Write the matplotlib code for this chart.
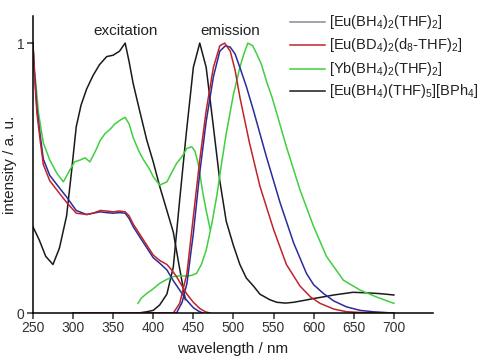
import numpy as np
import matplotlib.pyplot as plt

plt.rcParams['font.family'] = ['Liberation Sans', 'DejaVu Sans']
plt.rcParams['mathtext.fontset'] = 'custom'
plt.rcParams['mathtext.rm'] = 'Liberation Sans'
plt.rcParams['mathtext.it'] = 'Liberation Sans'

# [Eu(BH4)(THF)5][BPh4] excitation / emission (black)
blk_ex_x = [250, 258, 266, 275, 283, 292, 298, 304, 310, 317, 325, 333, 342, 350, 358, 365,
            370, 375, 383, 392, 400, 408, 416, 425, 432, 440]
blk_ex_y = [0.32, 0.27, 0.21, 0.18, 0.24, 0.36, 0.52, 0.69, 0.77, 0.83, 0.88, 0.92, 0.95, 0.955, 0.97, 1.0,
            0.93, 0.85, 0.75, 0.64, 0.56, 0.47, 0.39, 0.30, 0.18, 0.05]
blk_em_x = [381, 392, 400, 408, 417, 425, 433, 441, 450, 458, 466, 475, 483, 491, 500, 508, 516,
            525, 533, 545, 554, 565, 575, 590, 600, 612, 625, 637, 649, 666, 683, 700]
blk_em_y = [0.0, 0.005, 0.01, 0.03, 0.07, 0.17, 0.42, 0.66, 0.91, 1.0, 0.91, 0.69, 0.49, 0.34, 0.25, 0.18, 0.13,
            0.10, 0.07, 0.05, 0.04, 0.037, 0.04, 0.048, 0.054, 0.06, 0.067, 0.072, 0.077, 0.075, 0.072, 0.067]

# [Eu(BD4)2(d8-THF)2] (red)
red_ex_x = [250, 252, 255, 259, 263, 271, 284, 292, 304, 317, 325, 334, 342, 350, 358, 365, 370, 375,
            388, 400, 408, 417, 423, 429, 436, 442, 450, 458, 465, 471]
red_ex_y = [1.0, 0.88, 0.74, 0.64, 0.55, 0.49, 0.44, 0.41, 0.37, 0.365, 0.37, 0.38, 0.378, 0.375, 0.378, 0.375, 0.36, 0.33,
            0.27, 0.215, 0.195, 0.18, 0.16, 0.135, 0.10, 0.07, 0.04, 0.017, 0.005, 0.0]
red_em_x = [300, 380, 425, 433, 442, 450, 458, 466, 475, 483, 489, 496, 502, 508, 520, 533, 550,
            566, 583, 596, 608, 625, 641, 660, 680, 700]
red_em_y = [0.0, 0.0, 0.0, 0.036, 0.147, 0.357, 0.567, 0.75, 0.91, 0.99, 1.0, 0.97, 0.9, 0.80, 0.63, 0.47, 0.31,
            0.18, 0.10, 0.06, 0.036, 0.015, 0.005, 0.002, 0.0, 0.0]

# [Eu(BH4)2(THF)2] (blue)
blu_ex_x = [250, 252, 255, 259, 263, 271, 284, 292, 304, 317, 325, 334, 342, 350, 358, 365, 370, 375,
            388, 400, 408, 417, 425, 433, 441, 450, 456, 462]
blu_ex_y = [1.0, 0.89, 0.76, 0.66, 0.57, 0.51, 0.46, 0.43, 0.38, 0.365, 0.37, 0.375, 0.372, 0.37, 0.372, 0.37, 0.35, 0.32,
            0.26, 0.205, 0.185, 0.16, 0.12, 0.085, 0.05, 0.02, 0.008, 0.0]
blu_em_x = [300, 380, 429, 436, 442, 450, 458, 466, 475, 483, 490, 496, 502, 508, 516, 525, 541,
            558, 575, 591, 600, 612, 625, 641, 658, 674, 700]
blu_em_y = [0.0, 0.0, 0.0, 0.04, 0.11, 0.295, 0.52, 0.71, 0.875, 0.97, 0.99, 0.985, 0.96, 0.91, 0.84, 0.75, 0.58,
            0.41, 0.26, 0.147, 0.105, 0.073, 0.045, 0.023, 0.01, 0.005, 0.0]

# [Yb(BH4)2(THF)2] (green)
grn_ex_x = [250, 252, 254, 257, 263, 271, 280, 288, 296, 302, 309, 315, 321, 328, 334, 340, 346, 352,
            359, 365, 370, 375, 382, 388, 395, 400, 408, 417, 423, 429, 436, 442, 448, 452, 456, 462, 466, 471]
grn_ex_y = [1.0, 0.9, 0.84, 0.74, 0.63, 0.567, 0.517, 0.486, 0.53, 0.56, 0.567, 0.575, 0.56, 0.6, 0.64, 0.665, 0.68, 0.70,
            0.715, 0.725, 0.70, 0.65, 0.60, 0.567, 0.535, 0.505, 0.474, 0.486, 0.52, 0.554, 0.58, 0.61, 0.616, 0.6, 0.554, 0.443, 0.38, 0.31]
grn_em_x = [381, 385, 392, 400, 408, 417, 425, 433, 442, 448, 454, 460, 466, 473, 479, 485, 491, 500,
            508, 513, 518, 524, 529, 535, 541, 548, 554, 566, 583, 600, 616, 637, 658, 678, 700]
grn_em_y = [0.036, 0.055, 0.073, 0.09, 0.11, 0.125, 0.135, 0.138, 0.137, 0.14, 0.147, 0.18, 0.233, 0.33, 0.43, 0.55, 0.665, 0.81,
            0.91, 0.96, 1.0, 0.99, 0.96, 0.92, 0.86, 0.8, 0.74, 0.616, 0.456, 0.32, 0.21, 0.122, 0.085, 0.06, 0.036]

labels = [r'[Eu(BH$_4$)$_2$(THF)$_2$]',
          r'[Eu(BD$_4$)$_2$(d$_8$-THF)$_2$]',
          r'[Yb(BH$_4$)$_2$(THF)$_2$]',
          r'[Eu(BH$_4$)(THF)$_5$][BPh$_4$]']
xticks = [250, 300, 350, 400, 450, 500, 550, 600, 650, 700]

c_blue = '#2b2b9a'
c_red = '#c0242a'
c_green = '#3fcf3f'
c_black = '#1a1a1a'

fig = plt.figure(figsize=(4.84, 3.57), dpi=100)
ax = fig.add_axes([0.068, 0.123, 0.827, 0.832])

lw = 1.1
ax.plot(blk_ex_x, blk_ex_y, color=c_black, lw=lw)
ax.plot(blk_em_x, blk_em_y, color=c_black, lw=lw)
ax.plot(grn_ex_x, grn_ex_y, color=c_green, lw=lw)
ax.plot(grn_em_x, grn_em_y, color=c_green, lw=lw)
ax.plot(blu_ex_x, blu_ex_y, color=c_blue, lw=lw)
ax.plot(blu_em_x, blu_em_y, color=c_blue, lw=lw)
ax.plot(red_ex_x, red_ex_y, color=c_red, lw=lw)
ax.plot(red_em_x, red_em_y, color=c_red, lw=lw)

ax.set_xlim(250, 749)
ax.set_ylim(0, 1.1)
ax.set_xticks(xticks)
ax.set_yticks([0, 1])
ax.set_yticklabels(['0', '1'])
ax.spines['top'].set_visible(False)
ax.spines['right'].set_visible(False)
for s in ['left', 'bottom']:
    ax.spines[s].set_linewidth(1.1)
ax.tick_params(direction='out', length=4, width=1.1, labelsize=10, pad=2, colors='#333333')
ax.set_xlabel('wavelength / nm', fontsize=11, labelpad=5, color='#222222')
ax.set_ylabel('intensity / a. u.', fontsize=11, labelpad=0, color='#222222')

ax.text(365, 1.045, 'excitation', fontsize=11, ha='center', va='center', color='#222222')
ax.text(496, 1.045, 'emission', fontsize=11, ha='center', va='center', color='#222222')

# legend drawn by hand (it runs off the right edge in the reference)
leg_cols = ['#8a8a9a', c_red, c_green, c_black]
leg_y = [0.937, 0.873, 0.808, 0.744]
for lab, col, yy in zip(labels, leg_cols, leg_y):
    fig.add_artist(plt.Line2D([0.6, 0.672], [yy, yy], color=col, lw=1.1))
    fig.text(0.68, yy, lab, fontsize=10.5, va='center', ha='left', color='#222222')

fig.savefig('out.png', dpi=100)
